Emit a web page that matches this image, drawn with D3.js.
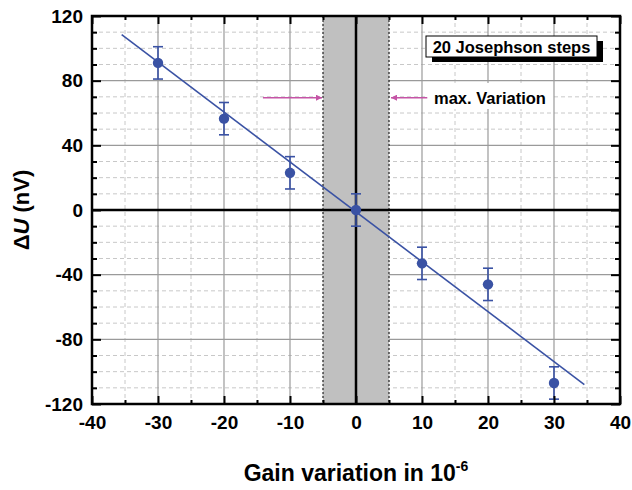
<!DOCTYPE html>
<html>
<head>
<meta charset="utf-8">
<script src="https://cdn.jsdelivr.net/npm/d3@7"></script>
<style>
  body { margin: 0; background: #fff; }
  text { font-family: "Liberation Sans", Arial, Helvetica, sans-serif; font-weight: bold; }
</style>
</head>
<body>
<svg id="chart" width="632" height="490"></svg>
<script>
// measured points (gain variation in 1e-6, delta U in nV)
const gainValues = [-30, -20, -10, 0, 10, 20, 30];
const deltaU = [91, 56.5, 23, 0, -33, -46, -107];
const errValues = [10, 10, 10, 10, 10, 10, 10];
// linear fit end points
const fitX = [-35.5, 34.6];
const fitY = [108.5, -108];
// shaded band for max. variation
const bandX = [-5, 5];
const xTicks = [-40, -30, -20, -10, 0, 10, 20, 30, 40];
const yTicks = [-120, -80, -40, 0, 40, 80, 120];

const svg = d3.select('#chart'),
  margin = { top: 16, right: 12, bottom: 86, left: 92 },
  width = 632 - margin.left - margin.right,
  height = 490 - margin.top - margin.bottom;

const g = svg.append('g')
  .attr('transform', `translate(${margin.left},${margin.top})`);

const x = d3.scaleLinear().domain([-40, 40]).range([0, width]);
const y = d3.scaleLinear().domain([-120, 120]).range([height, 0]);

const blue = '#3a52a4';
const pink = '#c554a6';

// minor grid (dashed)
const xMinor = d3.range(-35, 40, 10);
const yMinor = d3.range(-110, 120, 10).filter(v => v % 40 !== 0);
g.append('g').selectAll('line').data(xMinor).join('line')
  .attr('x1', d => x(d)).attr('x2', d => x(d))
  .attr('y1', 0).attr('y2', height)
  .attr('stroke', '#c8c8c8').attr('stroke-dasharray', '4,3');
g.append('g').selectAll('line').data(yMinor).join('line')
  .attr('y1', d => y(d)).attr('y2', d => y(d))
  .attr('x1', 0).attr('x2', width)
  .attr('stroke', '#c8c8c8').attr('stroke-dasharray', '4,3');

// major grid
g.append('g').selectAll('line').data(xTicks.slice(1, -1)).join('line')
  .attr('x1', d => x(d)).attr('x2', d => x(d))
  .attr('y1', 0).attr('y2', height)
  .attr('stroke', '#9a9a9a').attr('stroke-width', 1.2);
g.append('g').selectAll('line').data(yTicks.slice(1, -1)).join('line')
  .attr('y1', d => y(d)).attr('y2', d => y(d))
  .attr('x1', 0).attr('x2', width)
  .attr('stroke', '#9a9a9a').attr('stroke-width', 1.2);

// shaded band
g.append('rect')
  .attr('x', x(bandX[0])).attr('width', x(bandX[1]) - x(bandX[0]))
  .attr('y', 0).attr('height', height)
  .attr('fill', '#c0c0c0');
g.append('g').selectAll('line').data(bandX).join('line')
  .attr('x1', d => x(d)).attr('x2', d => x(d))
  .attr('y1', 0).attr('y2', height)
  .attr('stroke', '#000').attr('stroke-width', 1).attr('stroke-dasharray', '2,2');

// zero lines
g.append('line')
  .attr('x1', x(0)).attr('x2', x(0)).attr('y1', 0).attr('y2', height)
  .attr('stroke', '#000').attr('stroke-width', 2.5);
g.append('line')
  .attr('y1', y(0)).attr('y2', y(0)).attr('x1', 0).attr('x2', width)
  .attr('stroke', '#000').attr('stroke-width', 2.5);

// white box behind "max. Variation"
g.append('rect')
  .attr('x', 427 - margin.left).attr('y', 83 - margin.top)
  .attr('width', 126).attr('height', 26)
  .attr('fill', '#fff');

// arrows
const defs = svg.append('defs');
defs.append('marker')
  .attr('id', 'arr').attr('viewBox', '0 0 10 10')
  .attr('refX', 10).attr('refY', 5)
  .attr('markerWidth', 10).attr('markerHeight', 6)
  .attr('markerUnits', 'userSpaceOnUse')
  .attr('orient', 'auto')
  .append('path').attr('d', 'M0,0L10,5L0,10Z').attr('fill', pink);

const arrowY = y(69.5);
g.append('line')
  .attr('x1', x(-14.1)).attr('x2', x(bandX[0]) - 1)
  .attr('y1', arrowY).attr('y2', arrowY)
  .attr('stroke', pink).attr('stroke-width', 1.5)
  .attr('marker-end', 'url(#arr)');
g.append('line')
  .attr('x1', x(10.8)).attr('x2', x(bandX[1]) + 2)
  .attr('y1', arrowY).attr('y2', arrowY)
  .attr('stroke', pink).attr('stroke-width', 1.5)
  .attr('marker-end', 'url(#arr)');

g.append('text')
  .attr('x', 434 - margin.left).attr('y', arrowY + 6)
  .attr('font-size', 16.5).attr('fill', '#000')
  .text('max. Variation');

// legend box with shadow
const lg = g.append('g').attr('transform', `translate(${426 - margin.left},${36 - margin.top})`);
lg.append('rect').attr('x', 6).attr('y', 5).attr('width', 171).attr('height', 21).attr('fill', '#000');
lg.append('rect').attr('x', 0).attr('y', 0).attr('width', 171).attr('height', 21)
  .attr('fill', '#fff').attr('stroke', '#000').attr('stroke-width', 1);
lg.append('text').attr('x', 85.5).attr('y', 16.5).attr('text-anchor', 'middle')
  .attr('font-size', 16.5).text('20 Josephson steps');

// fit line
g.append('line')
  .attr('x1', x(fitX[0])).attr('y1', y(fitY[0]))
  .attr('x2', x(fitX[1])).attr('y2', y(fitY[1]))
  .attr('stroke', blue).attr('stroke-width', 1.6);

// error bars and points
const pts = gainValues.map((v, i) => ({ x: v, y: deltaU[i], e: errValues[i] }));
const eb = g.append('g').attr('stroke', blue).attr('stroke-width', 1.6);
eb.selectAll('.v').data(pts).join('line')
  .attr('x1', d => x(d.x)).attr('x2', d => x(d.x))
  .attr('y1', d => y(d.y - d.e)).attr('y2', d => y(d.y + d.e));
eb.selectAll('.t').data(pts).join('line')
  .attr('x1', d => x(d.x) - 5).attr('x2', d => x(d.x) + 5)
  .attr('y1', d => y(d.y + d.e)).attr('y2', d => y(d.y + d.e));
eb.selectAll('.b').data(pts).join('line')
  .attr('x1', d => x(d.x) - 5).attr('x2', d => x(d.x) + 5)
  .attr('y1', d => y(d.y - d.e)).attr('y2', d => y(d.y - d.e));
g.append('g').selectAll('circle').data(pts).join('circle')
  .attr('cx', d => x(d.x)).attr('cy', d => y(d.y)).attr('r', 5.2)
  .attr('fill', blue);

// axes with inward ticks
function styleAxis(sel) {
  sel.select('.domain').remove();
  sel.selectAll('line').attr('stroke', '#000').attr('stroke-width', 2);
  sel.selectAll('text').attr('font-size', 19).attr('fill', '#000')
    .style('font-family', '"Liberation Sans", Arial, sans-serif').style('font-weight', 'bold');
}
const fmt = d => String(d);
const xMinorTicks = d3.range(-35, 40, 10);
const yMinorTicks = d3.range(-110, 120, 10).filter(v => v % 40 !== 0);

g.append('g').attr('transform', `translate(0,${height})`)
  .call(d3.axisBottom(x).tickValues(xTicks).tickSize(-8).tickPadding(12).tickFormat(fmt))
  .call(styleAxis);
g.append('g').attr('transform', `translate(0,${height})`)
  .call(d3.axisBottom(x).tickValues(xMinorTicks).tickSize(-4).tickFormat(''))
  .call(styleAxis);
g.append('g')
  .call(d3.axisTop(x).tickValues(xTicks).tickSize(-8).tickFormat(''))
  .call(styleAxis);
g.append('g')
  .call(d3.axisTop(x).tickValues(xMinorTicks).tickSize(-4).tickFormat(''))
  .call(styleAxis);
g.append('g')
  .call(d3.axisLeft(y).tickValues(yTicks).tickSize(-9).tickPadding(9).tickFormat(fmt))
  .call(styleAxis);
g.append('g')
  .call(d3.axisLeft(y).tickValues(yMinorTicks).tickSize(-5).tickFormat(''))
  .call(styleAxis);
g.append('g').attr('transform', `translate(${width},0)`)
  .call(d3.axisRight(y).tickValues(yTicks).tickSize(-9).tickFormat(''))
  .call(styleAxis);
g.append('g').attr('transform', `translate(${width},0)`)
  .call(d3.axisRight(y).tickValues(yMinorTicks).tickSize(-5).tickFormat(''))
  .call(styleAxis);

// frame
g.append('rect').attr('width', width).attr('height', height)
  .attr('fill', 'none').attr('stroke', '#000').attr('stroke-width', 2.5);

// axis titles
const xt = svg.append('text')
  .attr('x', margin.left + width / 2).attr('y', 481)
  .attr('text-anchor', 'middle').attr('font-size', 23);
xt.append('tspan').text('Gain variation in 10');
xt.append('tspan').attr('font-size', 14).attr('dy', -10).text('-6');

const yt = svg.append('text')
  .attr('transform', `translate(29,${margin.top + y(0)}) rotate(-90)`)
  .attr('text-anchor', 'middle').attr('font-size', 22);
yt.append('tspan').text('Δ');
yt.append('tspan').attr('font-style', 'italic').text('U');
yt.append('tspan').text(' (nV)');
</script>
</body>
</html>
